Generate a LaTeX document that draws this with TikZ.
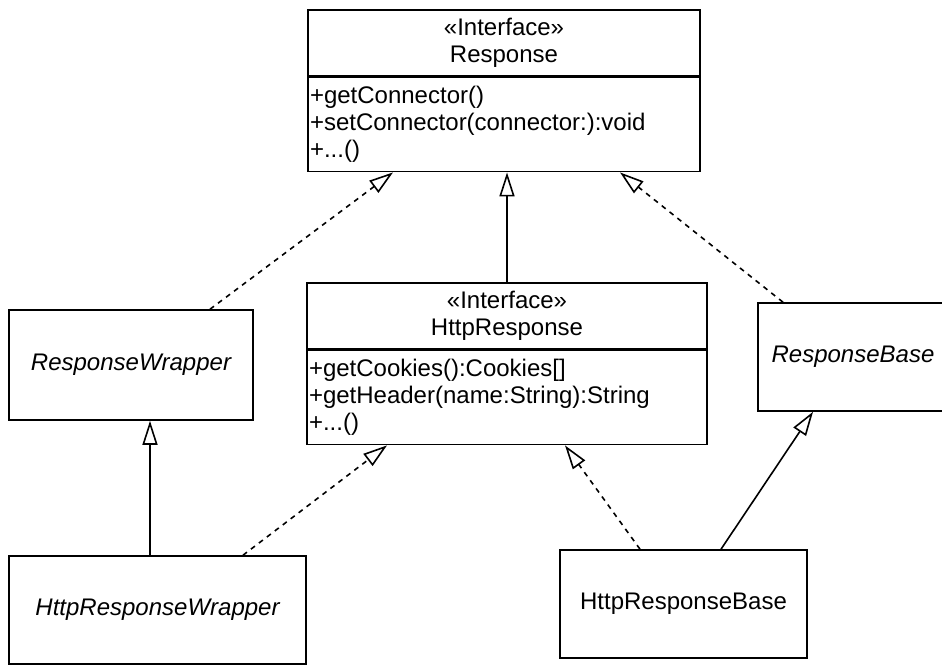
\documentclass[tikz,border=0pt]{standalone}
\usepackage{fontspec}
\setmainfont{Liberation Sans}
\usetikzlibrary{arrows.meta}
\newcommand{\umlfont}{\fontsize{12}{13.5}\selectfont}

\begin{document}
\begin{tikzpicture}[x=0.5pt, y=-0.5pt, line width=0.8pt, >={Triangle[open, length=12pt, width=7.5pt]},
    every node/.style={font=\umlfont},
    umlbox/.style={draw, line width=0.8pt, inner sep=0pt, align=center},
    opsbox/.style={draw, line width=0.8pt, inner xsep=1pt, inner ysep=0pt, align=left, anchor=north},
    realize/.style={->, dash pattern=on 2.5pt off 2.5pt},
    inherit/.style={->}]
				\useasboundingbox (0,0) rectangle (942,666);
				
				% 1. 顶层接口 Response
				\node[umlbox, minimum width=196pt, minimum height=33pt] (resphead) at (504,43) {«Interface»\\Response};
				\node[opsbox, text width=194pt, minimum height=47pt] (respops) at (resphead.south) {+getConnector()\\+setConnector(connector:):void\\+...()};
				
				% 2. 子接口 HttpResponse
				\node[umlbox, minimum width=200pt, minimum height=33pt] (httphead) at (507,316) {«Interface»\\HttpResponse};
				\node[opsbox, text width=198pt, minimum height=47pt] (httpops) at (httphead.south) {+getCookies():Cookies[]\\+getHeader(name:String):String\\+...()};
				
				% 3. 实现类
				\node[umlbox, minimum width=122pt, minimum height=55pt, font=\umlfont\itshape] (wrapper) at (131,365) {ResponseWrapper};
				\node[umlbox, minimum width=95pt, minimum height=54pt, font=\umlfont\itshape] (rbase) at (853,357) {ResponseBase};
				\node[umlbox, minimum width=148.5pt, minimum height=54pt, font=\umlfont\itshape] (hwrapper) at (157.5,610) {HttpResponseWrapper};
				\node[umlbox, minimum width=123.5pt, minimum height=54pt] (hbase) at (683.5,604) {HttpResponseBase};
				
				% 4. 实现关系 (虚线) 与继承关系 (实线)
				\draw[realize] ([xshift=39.5pt]wrapper.north) -- ([xshift=-55.5pt]respops.south);
				\draw[inherit] (httphead.north) -- (httphead.north |- respops.south);
				\draw[realize] ([xshift=-35pt]rbase.north) -- ([xshift=58pt]respops.south);
				
				\coordinate (hwtop) at ([xshift=-3.75pt]hwrapper.north);
				\draw[inherit] (hwtop) -- (hwtop |- wrapper.south);
				\draw[realize] ([xshift=42.75pt]hwrapper.north) -- ([xshift=-60pt]httpops.south);
				\draw[realize] ([xshift=-21.75pt]hbase.north) -- ([xshift=29pt]httpops.south);
				\draw[inherit] ([xshift=18.75pt]hbase.north) -- ([xshift=-20pt]rbase.south);
			\end{tikzpicture}
\end{document}
